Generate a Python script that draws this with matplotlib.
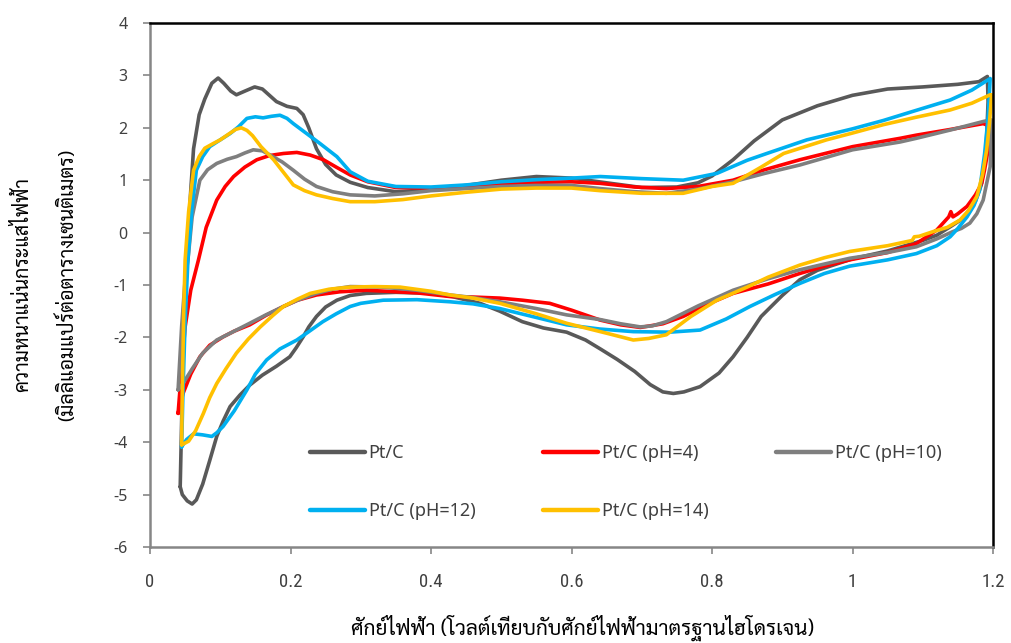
import matplotlib
matplotlib.use("Agg")
import matplotlib.pyplot as plt
from matplotlib.ticker import FuncFormatter

# ---- cyclic voltammograms: forward (anodic) and reverse (cathodic) sweeps ----
# Pt/C
ptc_fwd_E = [0.043, 0.046, 0.049, 0.053, 0.058, 0.062, 0.070, 0.078, 0.088, 0.097, 0.105, 0.115,
             0.123, 0.135, 0.149, 0.160, 0.180, 0.195, 0.209, 0.218, 0.226, 0.237, 0.250, 0.265,
             0.285, 0.310, 0.350, 0.400, 0.450, 0.500, 0.550, 0.600, 0.650, 0.700, 0.750, 0.780,
             0.800, 0.830, 0.860, 0.900, 0.950, 1.000, 1.050, 1.100, 1.150, 1.180, 1.192]
ptc_fwd_j = [-4.85, -3.00, -1.50, -0.30, 0.80, 1.60, 2.25, 2.55, 2.85, 2.95, 2.85, 2.70,
             2.63, 2.70, 2.78, 2.74, 2.50, 2.41, 2.37, 2.25, 2.00, 1.60, 1.30, 1.10,
             0.96, 0.86, 0.78, 0.82, 0.90, 1.00, 1.07, 1.04, 0.95, 0.86, 0.87, 0.95,
             1.08, 1.39, 1.75, 2.15, 2.42, 2.62, 2.74, 2.78, 2.83, 2.88, 2.98]
ptc_rev_E = [1.192, 1.193, 1.190, 1.183, 1.175, 1.167, 1.155, 1.139, 1.120, 1.100, 1.050, 1.000,
             0.950, 0.925, 0.900, 0.870, 0.850, 0.830, 0.810, 0.783, 0.760, 0.745, 0.730, 0.712,
             0.690, 0.665, 0.641, 0.620, 0.593, 0.560, 0.530, 0.498, 0.470, 0.430, 0.403, 0.350,
             0.308, 0.285, 0.266, 0.250, 0.237, 0.226, 0.218, 0.208, 0.199, 0.180, 0.160, 0.142,
             0.128, 0.114, 0.104, 0.095, 0.085, 0.075, 0.066, 0.060, 0.053, 0.046, 0.043]
ptc_rev_j = [2.98, 2.50, 1.50, 0.90, 0.60, 0.43, 0.25, 0.11, -0.05, -0.15, -0.35, -0.50,
             -0.72, -0.90, -1.20, -1.60, -2.00, -2.37, -2.68, -2.94, -3.04, -3.07, -3.04, -2.90,
             -2.65, -2.42, -2.22, -2.05, -1.90, -1.82, -1.70, -1.50, -1.35, -1.22, -1.16, -1.14,
             -1.16, -1.20, -1.29, -1.42, -1.60, -1.80, -1.99, -2.20, -2.37, -2.55, -2.72, -2.91,
             -3.10, -3.32, -3.60, -3.89, -4.35, -4.80, -5.10, -5.18, -5.12, -5.00, -4.85]

# Pt/C (pH=4)
ph4_fwd_E = [0.040, 0.045, 0.050, 0.058, 0.069, 0.080, 0.095, 0.107, 0.119, 0.135, 0.152, 0.170,
             0.190, 0.209, 0.228, 0.247, 0.265, 0.285, 0.310, 0.350, 0.400, 0.450, 0.500, 0.550,
             0.600, 0.641, 0.690, 0.735, 0.780, 0.830, 0.875, 0.925, 1.000, 1.068, 1.091, 1.140,
             1.186]
ph4_fwd_j = [-3.45, -2.60, -1.80, -1.10, -0.52, 0.10, 0.62, 0.88, 1.07, 1.25, 1.39, 1.47,
             1.51, 1.53, 1.48, 1.39, 1.25, 1.10, 0.97, 0.86, 0.85, 0.88, 0.93, 0.96,
             0.97, 0.94, 0.87, 0.84, 0.88, 1.00, 1.20, 1.39, 1.64, 1.80, 1.86, 1.97,
             2.08]
ph4_rev_E = [1.186, 1.192, 1.192, 1.188, 1.184, 1.175, 1.163, 1.150, 1.143, 1.140, 1.137, 1.120,
             1.091, 1.050, 0.996, 0.960, 0.925, 0.880, 0.830, 0.795, 0.759, 0.730, 0.698, 0.670,
             0.641, 0.600, 0.569, 0.530, 0.498, 0.460, 0.427, 0.380, 0.308, 0.270, 0.237, 0.210,
             0.190, 0.165, 0.142, 0.120, 0.104, 0.085, 0.071, 0.058, 0.047, 0.040]
ph4_rev_j = [2.08, 2.05, 1.50, 1.20, 0.94, 0.72, 0.50, 0.36, 0.30, 0.40, 0.30, 0.05,
             -0.21, -0.38, -0.52, -0.64, -0.78, -0.98, -1.16, -1.36, -1.60, -1.74, -1.81, -1.76,
             -1.67, -1.48, -1.35, -1.29, -1.25, -1.23, -1.22, -1.15, -1.10, -1.13, -1.19, -1.29,
             -1.41, -1.58, -1.76, -1.88, -1.99, -2.15, -2.37, -2.70, -3.07, -3.45]

# Pt/C (pH=10)
ph10_fwd_E = [0.040, 0.045, 0.050, 0.054, 0.060, 0.071, 0.082, 0.095, 0.110, 0.123, 0.135, 0.147,
              0.160, 0.171, 0.188, 0.204, 0.220, 0.237, 0.260, 0.285, 0.320, 0.360, 0.400, 0.450,
              0.500, 0.550, 0.600, 0.641, 0.690, 0.735, 0.780, 0.830, 0.875, 0.925, 1.000, 1.068,
              1.091, 1.140, 1.186, 1.196]
ph10_fwd_j = [-3.00, -1.80, -0.90, -0.52, 0.30, 1.00, 1.20, 1.32, 1.40, 1.45, 1.52, 1.58,
              1.56, 1.48, 1.35, 1.19, 1.02, 0.88, 0.78, 0.72, 0.70, 0.74, 0.80, 0.84,
              0.88, 0.90, 0.90, 0.84, 0.78, 0.75, 0.83, 0.97, 1.13, 1.29, 1.58, 1.73,
              1.80, 1.96, 2.12, 2.15]
ph10_rev_E = [1.198, 1.197, 1.196, 1.186, 1.177, 1.167, 1.155, 1.143, 1.120, 1.091, 1.050, 0.996,
              0.960, 0.925, 0.880, 0.830, 0.780, 0.735, 0.715, 0.698, 0.670, 0.641, 0.593, 0.550,
              0.498, 0.460, 0.427, 0.380, 0.330, 0.285, 0.260, 0.237, 0.210, 0.190, 0.165, 0.142,
              0.120, 0.095, 0.075, 0.060, 0.047, 0.040]
ph10_rev_j = [2.15, 1.70, 1.26, 0.62, 0.36, 0.18, 0.08, 0.02, -0.12, -0.27, -0.38, -0.49,
              -0.60, -0.71, -0.88, -1.10, -1.40, -1.70, -1.78, -1.80, -1.74, -1.66, -1.57, -1.45,
              -1.32, -1.24, -1.19, -1.10, -1.04, -1.03, -1.08, -1.16, -1.29, -1.41, -1.57, -1.73,
              -1.88, -2.05, -2.30, -2.60, -2.88, -3.00]

# Pt/C (pH=12)
ph12_fwd_E = [0.045, 0.047, 0.050, 0.054, 0.060, 0.066, 0.075, 0.085, 0.100, 0.114, 0.126, 0.138,
              0.150, 0.161, 0.173, 0.185, 0.195, 0.204, 0.220, 0.242, 0.266, 0.285, 0.310, 0.350,
              0.400, 0.450, 0.500, 0.550, 0.600, 0.641, 0.700, 0.759, 0.807, 0.850, 0.878, 0.935,
              1.000, 1.044, 1.090, 1.139, 1.170, 1.196]
ph12_fwd_j = [-4.09, -3.00, -1.70, -0.52, 0.50, 1.19, 1.45, 1.64, 1.77, 1.89, 2.02, 2.18,
              2.21, 2.19, 2.22, 2.24, 2.18, 2.08, 1.92, 1.70, 1.45, 1.16, 0.98, 0.88,
              0.87, 0.91, 0.97, 1.01, 1.04, 1.07, 1.03, 1.00, 1.13, 1.38, 1.51, 1.77,
              1.98, 2.14, 2.33, 2.53, 2.72, 2.94]
ph12_rev_E = [1.196, 1.193, 1.188, 1.181, 1.173, 1.163, 1.150, 1.139, 1.120, 1.091, 1.050, 0.996,
              0.960, 0.925, 0.890, 0.854, 0.820, 0.783, 0.740, 0.688, 0.640, 0.593, 0.550, 0.498,
              0.460, 0.427, 0.380, 0.332, 0.300, 0.285, 0.265, 0.246, 0.225, 0.209, 0.185, 0.166,
              0.150, 0.138, 0.120, 0.104, 0.095, 0.088, 0.075, 0.062, 0.052, 0.045]
ph12_rev_j = [2.94, 2.20, 1.50, 0.81, 0.52, 0.30, 0.08, -0.08, -0.25, -0.40, -0.52, -0.64,
              -0.78, -0.97, -1.18, -1.41, -1.65, -1.86, -1.90, -1.89, -1.84, -1.76, -1.62, -1.45,
              -1.36, -1.32, -1.28, -1.29, -1.35, -1.41, -1.55, -1.70, -1.90, -2.05, -2.22, -2.43,
              -2.70, -3.00, -3.40, -3.70, -3.82, -3.89, -3.86, -3.84, -3.95, -4.09]

# Pt/C (pH=14)
ph14_fwd_E = [0.045, 0.046, 0.048, 0.050, 0.055, 0.062, 0.070, 0.078, 0.090, 0.100, 0.112, 0.122,
              0.130, 0.138, 0.146, 0.158, 0.176, 0.190, 0.204, 0.220, 0.237, 0.260, 0.285, 0.320,
              0.360, 0.400, 0.450, 0.500, 0.550, 0.600, 0.641, 0.700, 0.759, 0.800, 0.830, 0.870,
              0.902, 0.963, 1.000, 1.044, 1.090, 1.139, 1.170, 1.196]
ph14_fwd_j = [-4.05, -3.00, -1.50, -0.52, 0.40, 1.19, 1.45, 1.61, 1.70, 1.77, 1.88, 1.97,
              2.00, 1.95, 1.85, 1.64, 1.39, 1.15, 0.91, 0.80, 0.72, 0.65, 0.59, 0.59,
              0.63, 0.70, 0.77, 0.83, 0.85, 0.85, 0.80, 0.75, 0.75, 0.88, 0.94, 1.25,
              1.51, 1.77, 1.90, 2.06, 2.20, 2.34, 2.47, 2.63]
ph14_rev_E = [1.198, 1.195, 1.191, 1.185, 1.177, 1.165, 1.153, 1.135, 1.115, 1.095, 1.088, 1.085,
              1.050, 0.996, 0.960, 0.925, 0.880, 0.850, 0.807, 0.770, 0.735, 0.710, 0.688, 0.650,
              0.620, 0.593, 0.550, 0.498, 0.460, 0.427, 0.400, 0.356, 0.320, 0.285, 0.255, 0.228,
              0.210, 0.190, 0.175, 0.157, 0.140, 0.123, 0.108, 0.095, 0.085, 0.076, 0.065, 0.055,
              0.048, 0.045]
ph14_rev_j = [2.63, 2.10, 1.58, 1.10, 0.69, 0.42, 0.24, 0.10, 0.02, -0.07, -0.08, -0.15,
              -0.25, -0.36, -0.48, -0.62, -0.85, -1.04, -1.29, -1.60, -1.95, -2.02, -2.05, -1.92,
              -1.82, -1.73, -1.55, -1.35, -1.25, -1.19, -1.12, -1.04, -1.03, -1.04, -1.08, -1.16,
              -1.27, -1.41, -1.58, -1.80, -2.03, -2.30, -2.60, -2.88, -3.15, -3.45, -3.78, -3.98,
              -4.03, -4.05]

labels = ["Pt/C", "Pt/C (pH=4)", "Pt/C (pH=10)", "Pt/C (pH=12)", "Pt/C (pH=14)"]
colors = ["#595959", "#FF0000", "#7F7F7F", "#00B0F0", "#FFC000"]
sweeps = [
    (ptc_fwd_E, ptc_fwd_j, ptc_rev_E, ptc_rev_j),
    (ph4_fwd_E, ph4_fwd_j, ph4_rev_E, ph4_rev_j),
    (ph10_fwd_E, ph10_fwd_j, ph10_rev_E, ph10_rev_j),
    (ph12_fwd_E, ph12_fwd_j, ph12_rev_E, ph12_rev_j),
    (ph14_fwd_E, ph14_fwd_j, ph14_rev_E, ph14_rev_j),
]

x_ticks = [0, 0.2, 0.4, 0.6, 0.8, 1.0, 1.2]
y_ticks = [-6, -5, -4, -3, -2, -1, 0, 1, 2, 3, 4]

xlabel_text = "ศักย์ไฟฟ้า (โวลต์เทียบกับศักย์ไฟฟ้ามาตรฐานไฮโดรเจน)"
ylabel_line1 = "ความหนาแน่นกระแสไฟฟ้า"
ylabel_line2 = "(มิลลิแอมแปร์ต่อตารางเซนติเมตร)"

thai_fonts = ["Sarabun", "Noto Sans Thai Looped", "Noto Sans Thai", "Anuphan", "DejaVu Sans"]
latin_fonts = ["Noto Sans", "Open Sans", "DejaVu Sans"]
narrow_fonts = ["Roboto Condensed", "Liberation Sans Narrow", "DejaVu Sans"]
text_color = "#404040"

W, H = 1011, 643
fig = plt.figure(figsize=(W / 100, H / 100), dpi=100)
ax = fig.add_axes([150 / W, 1 - 547 / H, 843 / W, 524 / H])

handles = []
for (fE, fj, rE, rj), c, lab in zip(sweeps, colors, labels):
    ln, = ax.plot(list(fE) + list(rE), list(fj) + list(rj), color=c, lw=2.6,
                  solid_joinstyle="round", solid_capstyle="round", label=lab)
    handles.append(ln)

ax.set_xlim(0, 1.2)
ax.set_ylim(-6, 4)
ax.set_xticks(x_ticks)
ax.set_yticks(y_ticks)
ax.xaxis.set_major_formatter(FuncFormatter(lambda v, p: f"{v:g}"))
ax.yaxis.set_major_formatter(FuncFormatter(lambda v, p: f"{v:g}"))

for side in ("left", "bottom"):
    ax.spines[side].set_color("#868686")
    ax.spines[side].set_linewidth(1.8)
for side in ("top", "right"):
    ax.spines[side].set_color("black")
    ax.spines[side].set_linewidth(1.8)

ax.tick_params(axis="both", direction="out", length=5, width=1.2, color="#868686",
               labelcolor=text_color)
ax.tick_params(axis="y", pad=11)
ax.tick_params(axis="x", pad=14)
for t in ax.get_yticklabels():
    t.set_fontfamily(latin_fonts)
    t.set_fontsize(11.5)
for t in ax.get_xticklabels():
    t.set_fontfamily(narrow_fonts)
    t.set_fontsize(13.5)

# legend laid out in two rows, three columns (entries are filled column by column)
order = [0, 3, 1, 4, 2]
leg = ax.legend([handles[i] for i in order], [labels[i] for i in order],
                ncol=3, loc="upper left", bbox_to_anchor=(0.179, 0.213),
                frameon=False, handlelength=3.05, handletextpad=0.2,
                columnspacing=3.75, labelspacing=2.22, borderpad=0,
                prop={"family": latin_fonts, "size": 13})
for t in leg.get_texts():
    t.set_color(text_color)
for ln in leg.get_lines():
    ln.set_linewidth(3.2)

fig.text(583 / W, 1 - 628 / H, xlabel_text, ha="center", va="center",
         fontsize=15, color="black", family=thai_fonts)
fig.text(22 / W, 1 - 285 / H, ylabel_line1, ha="center", va="center", rotation=90,
         fontsize=14.2, color="black", family=thai_fonts)
fig.text(67 / W, 1 - 285 / H, ylabel_line2, ha="center", va="center", rotation=90,
         fontsize=14.2, color="black", family=thai_fonts)

fig.savefig("out.png", dpi=100)
